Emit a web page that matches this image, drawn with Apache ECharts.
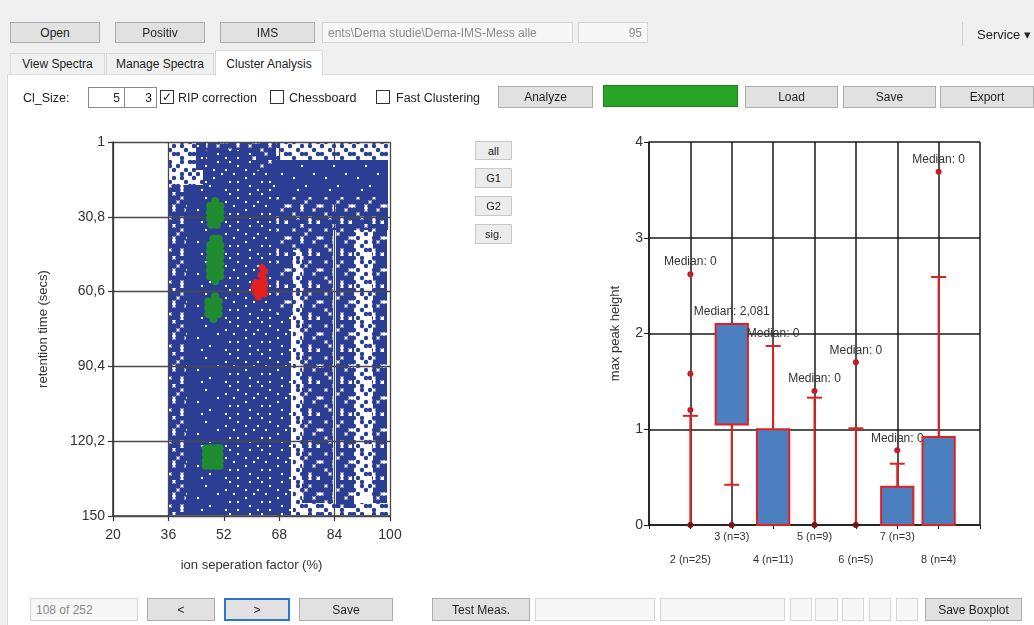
<!DOCTYPE html>
<html><head><meta charset="utf-8">
<script src="https://cdn.jsdelivr.net/npm/echarts@6/dist/echarts.min.js"></script>
<style>
body{margin:0;width:1034px;height:625px;overflow:hidden;background:#f0f0f0;font-family:"Liberation Sans",Arial,sans-serif;position:relative;color:#222}
#panel{position:absolute;left:7px;top:74px;width:1027px;height:551px;background:#fff;border-left:1px solid #dcdcdc;border-top:1px solid #dcdcdc;box-sizing:border-box}
#chart{position:absolute;left:0;top:0;width:1034px;height:625px}
.ui{position:absolute;box-sizing:border-box;display:flex;align-items:center;justify-content:center;font-size:12px;white-space:nowrap;overflow:hidden}
.btn{background:#e1e1e1;border:1px solid #adadad;color:#1e1e1e}
.fld{background:#f7f7f7;border:1px solid #d6d6d6;color:#8a8a8a;justify-content:flex-start;padding-left:5px}
.inp{background:#fff;border:1px solid #8a8a8a;justify-content:flex-end;padding-right:4px}
.tab{background:#f0f0f0;border:1px solid #d9d9d9;border-bottom:none}
.lbl{justify-content:flex-start;font-size:12.5px;color:#222}
.chk{width:14px;height:14px;border:1px solid #333;background:#fff;font-size:12px;line-height:12px}
.sm{background:#ececec;border:1px solid #c9c9c9;font-size:11px}
</style></head><body>
<div id="panel"></div>
<div id="chart"></div>

<div class="ui btn" style="left:10px;top:22px;width:90px;height:21px">Open</div>
<div class="ui btn" style="left:115px;top:22px;width:90px;height:21px">Positiv</div>
<div class="ui btn" style="left:220px;top:22px;width:95px;height:21px">IMS</div>
<div class="ui fld" style="left:322px;top:22px;width:251px;height:21px">ents\Dema studie\Dema-IMS-Mess alle</div>
<div class="ui fld" style="left:578px;top:22px;width:70px;height:21px;justify-content:flex-end;padding-right:5px">95</div>
<div class="ui" style="left:962px;top:22px;width:72px;height:24px;border-left:1px solid #d0d0d0;font-size:13px;justify-content:flex-start;padding-left:14px">Service ▾</div>

<div class="ui tab" style="left:10px;top:53px;width:95px;height:21px">View Spectra</div>
<div class="ui tab" style="left:106px;top:53px;width:108px;height:21px">Manage Spectra</div>
<div class="ui tab" style="left:215px;top:50px;width:108px;height:26px;background:#fff;z-index:2">Cluster Analysis</div>

<div class="ui lbl" style="left:23px;top:88px;height:20px">Cl_Size:</div>
<div class="ui inp" style="left:88px;top:87px;width:37px;height:21px">5</div>
<div class="ui inp" style="left:124px;top:87px;width:33px;height:21px">3</div>
<div class="ui chk" style="left:160px;top:90px">&#10003;</div>
<div class="ui lbl" style="left:178px;top:88px;height:20px">RIP correction</div>
<div class="ui chk" style="left:270px;top:90px"></div>
<div class="ui lbl" style="left:289px;top:88px;height:20px">Chessboard</div>
<div class="ui chk" style="left:376px;top:90px"></div>
<div class="ui lbl" style="left:396px;top:88px;height:20px">Fast Clustering</div>
<div class="ui btn" style="left:498px;top:86px;width:95px;height:22px">Analyze</div>
<div class="ui" style="left:603px;top:85px;width:135px;height:22px;background:#27a527;border:1px solid #1d861d"></div>
<div class="ui btn" style="left:745px;top:86px;width:93px;height:22px">Load</div>
<div class="ui btn" style="left:843px;top:86px;width:93px;height:22px">Save</div>
<div class="ui btn" style="left:940px;top:86px;width:94px;height:22px">Export</div>

<div class="ui sm" style="left:475px;top:141px;width:37px;height:19px">all</div>
<div class="ui sm" style="left:475px;top:168px;width:37px;height:20px">G1</div>
<div class="ui sm" style="left:475px;top:196px;width:37px;height:20px">G2</div>
<div class="ui sm" style="left:475px;top:224px;width:37px;height:20px">sig.</div>

<div class="ui fld" style="left:30px;top:598px;width:108px;height:23px">108 of 252</div>
<div class="ui btn" style="left:147px;top:598px;width:68px;height:23px">&lt;</div>
<div class="ui btn" style="left:224px;top:598px;width:66px;height:23px;border:2px solid #2a77c9">&gt;</div>
<div class="ui btn" style="left:299px;top:598px;width:94px;height:23px">Save</div>
<div class="ui btn" style="left:432px;top:598px;width:98px;height:23px">Test Meas.</div>
<div class="ui fld" style="left:535px;top:598px;width:120px;height:23px"></div>
<div class="ui fld" style="left:660px;top:598px;width:125px;height:23px"></div>
<div class="ui fld" style="left:790px;top:598px;width:22px;height:23px"></div>
<div class="ui fld" style="left:815px;top:598px;width:23px;height:23px"></div>
<div class="ui fld" style="left:842px;top:598px;width:22px;height:23px"></div>
<div class="ui fld" style="left:869px;top:598px;width:22px;height:23px"></div>
<div class="ui fld" style="left:896px;top:598px;width:22px;height:23px"></div>
<div class="ui btn" style="left:925px;top:598px;width:97px;height:23px">Save Boxplot</div>

<script>
// ---------- scatter (cluster map) ----------
const xTicks = [20, 36, 52, 68, 84, 100];
const xTickLabels = ['20', '36', '52', '68', '84', '100'];
const yTicks = [1, 30.8, 60.6, 90.4, 120.2, 150];
const yTickLabels = ['1', '30,8', '60,6', '90,4', '120,2', '150'];
const xName = 'ion seperation factor (%)';
const yName = 'retention time (secs)';

// regions of spectral points [x0, x1, y0, y1], by point density
const sparseRegions = [
  [36.3, 46, 1, 18], [66, 99.5, 1, 8], [72, 74.5, 44, 149.5],
  [89.5, 95, 36, 142], [74.5, 99.5, 145, 149.5]
];
const mediumRegions = [
  [36.3, 41, 18, 149.5], [60, 67, 1, 12], [46, 60, 1, 4], [67, 72, 23, 70], [72, 74.5, 36, 44],
  [72, 99.5, 23, 36], [74.5, 83.5, 36, 145], [84.5, 89.5, 36, 147], [95, 99, 36, 145]
];
const speckledRegions = [
  [52, 67, 18, 149.5], [67, 71.5, 70, 149.5], [46, 60, 4, 18], [60, 67, 12, 18]
];
const denseRegions = [
  [41, 52, 18, 149.5], [44, 47, 1, 12], [66, 99.5, 8, 23]
];
const groupG1 = [
  [49.5,24.5],[48,26.5],[49.5,26.5],[51,26.5],[48,29],[49.5,29],[51,29],[48,31.5],[49.5,31.5],[51,31.5],[48.3,34],[50,34],
  [49,39.5],[50.5,39.5],[48,42],[49.5,42],[51,42],[48,44.5],[49.5,44.5],[51,44.5],[48,47],[49.5,47],[51,47],
  [48,49.5],[49.5,49.5],[51,49.5],[48,52],[49.5,52],[51,52],[48,54.5],[49.5,54.5],[51,54.5],[49.5,56.5],
  [49.5,62.5],[47.5,64.5],[49,64.5],[50.5,64.5],[47.5,67],[49,67],[50.5,67],[47.5,69.5],[49,69.5],[50.5,69.5],[49,71.5],
  [46.8,123],[48.3,123],[49.8,123],[50.8,123],[46.8,125.5],[48.3,125.5],[49.8,125.5],[50.8,125.5],
  [46.8,128],[48.3,128],[49.8,128],[50.8,128],[46.8,130],[48.3,130],[49.8,130],[50.8,130]
];
const groupSig = [
  [63,51],[63.8,52.5],[62.8,54],[63.5,55.5],
  [61.2,57],[62.6,57],[63.8,57.5],[60.8,59],[62.2,59],[63.6,59.5],[61.2,61],[62.6,61],[63.8,61.5],[62,62.8]
];

// ---------- boxplot ----------
const boxCats = ['2 (n=25)', '3 (n=3)', '4 (n=11)', '5 (n=9)', '6 (n=5)', '7 (n=3)', '8 (n=4)'];
const boxPos = [2, 3, 4, 5, 6, 7, 8];
const boxLow = [0, 1.05, 0, 0, 0, 0, 0];
const boxHigh = [0, 2.1, 1.0, 0, 0, 0.4, 0.92];
const whiskerLow = [0, 0.42, 0, 0, 0, 0, 0];
const whiskerHigh = [1.14, 2.1, 1.87, 1.33, 1.01, 0.64, 2.59];
const outliers = [[2.62, 1.58, 1.2, 0], [0], [], [1.4, 0], [1.7, 0], [0.78], [3.69]];
const medians = [0, 2.081, 0, 0, 0, 0, 0];
const boxYTicks = [0, 1, 2, 3, 4];
const boxYName = 'max peak height';

// ---------- styles ----------
const FONT = '"Liberation Sans", Arial, sans-serif';
const BLUE = '#2c3e94', GREEN = '#1f8c30', RED = '#e3201f', BOXBLUE = '#4c7fc0';
function makeDotPattern(rows, r) {
  const cell = 4, n = rows.length;
  const c = document.createElement('canvas');
  c.width = cell * n; c.height = cell * n;
  const g = c.getContext('2d');
  g.fillStyle = BLUE;
  rows.forEach((row, j) => row.split('').forEach((ch, i) => {
    if (ch === '#') { g.beginPath(); g.arc(i * cell + 2, j * cell + 2, r, 0, Math.PI * 2); g.fill(); }
  }));
  return { image: c, repeat: 'repeat' };
}
function makeSolidPattern(rows) {
  const cell = 4, n = rows.length;
  const c = document.createElement('canvas');
  c.width = cell * n; c.height = cell * n;
  const g = c.getContext('2d');
  g.fillStyle = BLUE; g.fillRect(0, 0, c.width, c.height);
  g.fillStyle = '#ffffff';
  rows.forEach((row, j) => row.split('').forEach((ch, i) => {
    if (ch === 'o') g.fillRect(i * cell + 1, j * cell + 1, 2, 2);
  }));
  return { image: c, repeat: 'repeat' };
}
const patDense = makeSolidPattern(['........','...o....','........','......o.','.o......','........','....o...','..o.....']);
const patSpeckled = makeSolidPattern(['.o....o.','...o....','o....o..','..o....o','.....o..','.o.o....','......o.','o..o....']);
const patMedium = makeDotPattern(['###.####','#.###.##','####.###','.##.###.','###.##.#','#.######','##.##.##','#####.#.'], 2.7);
const patSparse = makeDotPattern(['#.#..#.#','..#.#...','#..#..#.','.#...#.#','#..#.#..','..#...#.','#..##..#','.#...#..'], 2.2);

const x0 = xTicks[0], y0 = yTicks[0];
const xStep = xTicks[1] - xTicks[0], yStep = yTicks[1] - yTicks[0];
const shiftR = r => [r[0] - x0, r[1] - x0, r[2] - y0, r[3] - y0];
const shiftP = p => [p[0] - x0, p[1] - y0];

function regionSeries(regions, pat) {
  return {
    type: 'custom', xAxisIndex: 0, yAxisIndex: 0, clip: true, z: 2,
    encode: { x: [0, 1], y: [2, 3] },
    data: regions.map(shiftR),
    renderItem: (params, api) => {
      const a = api.coord([api.value(0), api.value(2)]);
      const b = api.coord([api.value(1), api.value(3)]);
      const l = Math.round(Math.min(a[0], b[0])), r = Math.round(Math.max(a[0], b[0]));
      const t = Math.round(Math.min(a[1], b[1])), bt = Math.round(Math.max(a[1], b[1]));
      return { type: 'rect', shape: { x: l, y: t, width: r - l, height: bt - t }, style: { fill: pat } };
    }
  };
}

const boxData = boxPos.map((p, i) => [p, boxLow[i], boxHigh[i], whiskerLow[i], whiskerHigh[i]]);
const outlierData = [];
outliers.forEach((arr, i) => arr.forEach(v => outlierData.push([boxPos[i], v])));
const BOXW = 0.78;

function renderBox(params, api) {
  const i = params.dataIndex;
  const x = api.value(0), bl = api.value(1), bh = api.value(2), wl = api.value(3), wh = api.value(4);
  const ch = [];
  const pl = api.coord([x, wl]), ph = api.coord([x, wh]);
  ch.push({ type: 'line', shape: { x1: pl[0], y1: pl[1], x2: ph[0], y2: ph[1] }, style: { stroke: RED, lineWidth: 2 } });
  if (bh > bl) {
    const a = api.coord([x - BOXW / 2, bh]), b = api.coord([x + BOXW / 2, bl]);
    ch.push({ type: 'rect', shape: { x: a[0], y: a[1], width: b[0] - a[0], height: b[1] - a[1] }, style: { fill: BOXBLUE, stroke: RED, lineWidth: 2 } });
  }
  const cap = (v) => { const p = api.coord([x, v]); ch.push({ type: 'line', shape: { x1: p[0] - 7.5, y1: p[1], x2: p[0] + 7.5, y2: p[1] }, style: { stroke: RED, lineWidth: 2 } }); };
  if (wh > bh) cap(wh);
  if (wl > 0 && wl < bl) cap(wl);
  const top = Math.max(wh, bh, ...(outliers[i].length ? outliers[i] : [0]));
  const pt = api.coord([x, top]);
  ch.push({ type: 'text', style: { text: 'Median: ' + String(medians[i]).replace('.', ','), x: pt[0], y: pt[1] - 12,
    textAlign: 'center', textVerticalAlign: 'middle', fill: '#333', font: '12px ' + FONT } });
  return { type: 'group', children: ch };
}

const chart = echarts.init(document.getElementById('chart'), null, { renderer: 'canvas' });
chart.setOption({
  animation: false,
  textStyle: { fontFamily: FONT },
  grid: [
    { left: 113, top: 142, width: 277, height: 374 },
    { left: 649, top: 142, width: 331, height: 383 }
  ],
  xAxis: [
    { gridIndex: 0, type: 'value', min: 0, max: xTicks[xTicks.length - 1] - x0, interval: xStep,
      axisLine: { onZero: false, lineStyle: { color: '#333', width: 1.5 } },
      axisTick: { show: true, length: 5, lineStyle: { color: '#333', width: 1.2 } },
      axisLabel: { formatter: v => xTickLabels[Math.round(v / xStep)] || '', fontSize: 14, color: '#333', margin: 12 },
      splitLine: { show: true, lineStyle: { color: '#4a4a4a', width: 1.3 } },
      name: xName, nameLocation: 'middle', nameGap: 43, nameTextStyle: { fontSize: 13, color: '#333' } },
    { gridIndex: 1, type: 'value', min: 1, max: 9, interval: 1,
      axisLine: { onZero: false, lineStyle: { color: '#1a1a1a', width: 1.5 } },
      axisTick: { show: true, length: 4, lineStyle: { color: '#1a1a1a' } },
      axisLabel: { margin: 0, color: '#333', fontSize: 11, lineHeight: 23,
        formatter: v => { const i = boxPos.indexOf(Math.round(v)); if (i < 0) return ''; return (i % 2 === 0 ? '\n' : '') + boxCats[i]; } },
      splitLine: { show: true, lineStyle: { color: '#1a1a1a', width: 1.5 } } }
  ],
  yAxis: [
    { gridIndex: 0, type: 'value', inverse: true, min: 0, max: yTicks[yTicks.length - 1] - y0, interval: yStep, z: 3,
      axisLine: { show: true, lineStyle: { color: '#333', width: 1.5 } },
      axisTick: { show: true, length: 5, lineStyle: { color: '#333', width: 1.2 } },
      axisLabel: { formatter: v => yTickLabels[Math.round(v / yStep)] || '', fontSize: 14, color: '#333', margin: 8 },
      splitLine: { show: true, lineStyle: { color: '#4a4a4a', width: 1.3 } },
      name: yName, nameLocation: 'middle', nameGap: 63, nameRotate: 90, nameTextStyle: { fontSize: 13, color: '#333' } },
    { gridIndex: 1, type: 'value', min: boxYTicks[0], max: boxYTicks[boxYTicks.length - 1], interval: 1,
      axisLine: { show: true, lineStyle: { color: '#1a1a1a', width: 1.5 } },
      axisTick: { show: true, length: 5, lineStyle: { color: '#1a1a1a' } },
      axisLabel: { fontSize: 14, color: '#333', margin: 6 },
      splitLine: { show: true, lineStyle: { color: '#1a1a1a', width: 1.5 } },
      name: boxYName, nameLocation: 'middle', nameGap: 27, nameRotate: 90, nameTextStyle: { fontSize: 13, color: '#333' } }
  ],
  series: [
    regionSeries(sparseRegions, patSparse),
    regionSeries(mediumRegions, patMedium),
    regionSeries(speckledRegions, patSpeckled),
    regionSeries(denseRegions, patDense),
    { type: 'scatter', xAxisIndex: 0, yAxisIndex: 0, z: 5, symbol: 'circle', symbolSize: 8, itemStyle: { color: GREEN, opacity: 1 },
      data: groupG1.map(shiftP) },
    { type: 'scatter', xAxisIndex: 0, yAxisIndex: 0, z: 5, symbol: 'circle', symbolSize: 7, itemStyle: { color: RED, opacity: 1 },
      data: groupSig.map(shiftP) },
    { type: 'custom', xAxisIndex: 1, yAxisIndex: 1, z: 3, encode: { x: 0, y: [1, 2, 3, 4] }, data: boxData, renderItem: renderBox },
    { type: 'scatter', xAxisIndex: 1, yAxisIndex: 1, z: 6, symbolSize: 6,
      itemStyle: { color: p => p.value[1] === 0 ? '#7a1414' : '#c81b2a', opacity: 1 }, data: outlierData }
  ]
});
</script>
</body></html>
